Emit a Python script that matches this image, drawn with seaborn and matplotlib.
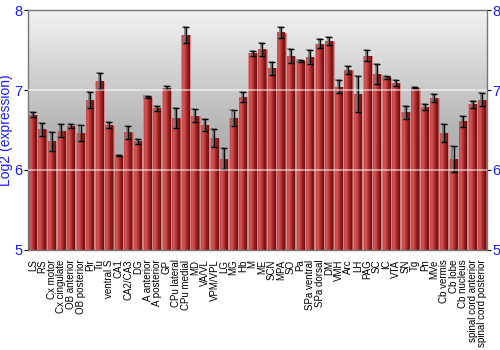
import numpy as np
import pandas as pd
import matplotlib
matplotlib.use("Agg")
import matplotlib.pyplot as plt
import seaborn as sns
from matplotlib.colors import LinearSegmentedColormap

regions = ["LS", "RS", "Cx motor", "Cx cingulate", "OB anterior", "OB posterior", "Pir", "Tu",
           "ventral S", "CA1", "CA2/CA3", "DG", "A anterior", "A posterior", "GP", "CPu lateral",
           "CPu medial", "MD", "VA/VL", "VPM/VPL", "LG", "MG", "Hb", "M", "ME", "SCN", "MPA",
           "SO", "Pa", "SPa ventral", "SPa dorsal", "DM", "VMH", "Arc", "LH", "PAG", "SC", "IC",
           "VTA", "SN", "Tg", "Pn", "MVe", "Cb vermis", "Cb lobe", "Cb nucleus",
           "spinal cord anterior", "spinal cord posterior"]
expression = [6.69, 6.51, 6.36, 6.49, 6.55, 6.46, 6.88, 7.11,
              6.56, 6.18, 6.47, 6.36, 6.91, 6.77, 7.03, 6.65,
              7.69, 6.68, 6.56, 6.40, 6.14, 6.65, 6.91, 7.46, 7.51, 7.27, 7.72,
              7.43, 7.36, 7.41, 7.58, 7.61, 7.04, 7.25, 6.95, 7.43, 7.20, 7.16,
              7.09, 6.72, 7.03, 6.79, 6.90, 6.46, 6.14, 6.61,
              6.82, 6.88]
error = [0.03, 0.08, 0.12, 0.08, 0.02, 0.10, 0.10, 0.10,
         0.04, 0.01, 0.08, 0.03, 0.01, 0.03, 0.02, 0.12,
         0.10, 0.08, 0.075, 0.11, 0.13, 0.10, 0.06, 0.035, 0.08, 0.08, 0.065,
         0.09, 0.01, 0.09, 0.055, 0.05, 0.08, 0.045, 0.23, 0.07, 0.125, 0.02,
         0.04, 0.08, 0.005, 0.04, 0.05, 0.11, 0.16, 0.07,
         0.04, 0.08]
y_ticks = [5, 6, 7, 8]
y_min, y_max = 5, 8

df = pd.DataFrame({"region": regions, "expr": expression, "err": error})

sns.set_theme(style="white")
plt.rcParams["font.family"] = ["Liberation Sans", "DejaVu Sans"]

fig = plt.figure(figsize=(5, 3.5), dpi=100)
ax = fig.add_axes([0.056, 0.286, 0.918, 0.685])

# background gradient
bg = LinearSegmentedColormap.from_list("bg", ["#9c9c9c", "#b4b4b4", "#f2f2f2"])
ax.imshow(np.linspace(0, 1, 256).reshape(-1, 1), cmap=bg, aspect="auto",
          extent=[-0.5, len(regions) - 0.5, y_min, y_max], origin="lower", zorder=0)

sns.barplot(data=df, x="region", y="expr", color="#c03a3a", width=0.9,
            edgecolor="#d88a8a", linewidth=0.6, errorbar=None, ax=ax, zorder=2)

# horizontal shading inside bars
barcm = LinearSegmentedColormap.from_list("bar", ["#c84848", "#d45656", "#b83434", "#8a1c1c", "#6e1212"])
grad = np.linspace(0, 1, 64).reshape(1, -1)
for p in list(ax.patches):
    x0, y0 = p.get_x(), p.get_y()
    w, h = p.get_width(), p.get_height()
    ax.imshow(grad, cmap=barcm, aspect="auto",
              extent=[x0 + 0.04, x0 + w - 0.04, max(y0, y_min), y0 + h - 0.004],
              origin="lower", zorder=2.5)

xs = np.arange(len(regions))
ax.errorbar(xs - 0.12, df["expr"], yerr=df["err"], fmt="none", ecolor="#777777",
            elinewidth=1.4, capsize=2.5, capthick=1.2, zorder=3, alpha=0.8)
ax.errorbar(xs, df["expr"], yerr=df["err"], fmt="none", ecolor="black",
            elinewidth=1.0, capsize=2.5, capthick=1.0, zorder=4)

for t in [6, 7]:
    ax.axhline(t, color="white", lw=1.2, alpha=0.6, zorder=5)

ax.set_xlim(-0.5, len(regions) - 0.5)
ax.set_ylim(y_min, y_max)
ax.set_yticks(y_ticks)
ax.set_xlabel("")
ax.set_ylabel("Log2 (expression)", color="#1a1aff", fontsize=10)
ax.yaxis.set_label_coords(-0.033, 0.5)
ax.tick_params(axis="y", which="both", left=True, right=True, labelleft=True,
               labelright=True, labelcolor="#1a1aff", labelsize=10.5, length=3,
               width=0.8, color="black", pad=1)
ax.tick_params(axis="x", bottom=False, labelsize=7.0, pad=1)
ax.set_xticks(xs)
ax.set_xticklabels(regions, rotation=90, color="black")
for s in ax.spines.values():
    s.set_color("#777777")
    s.set_linewidth(1.0)

fig.savefig("out.png", dpi=100)
